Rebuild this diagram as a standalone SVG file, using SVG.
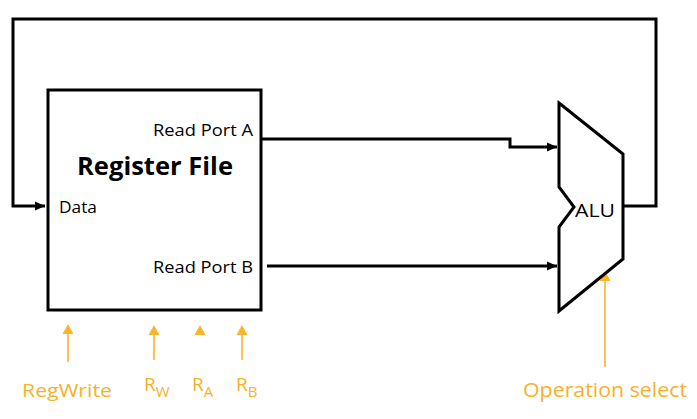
<svg xmlns="http://www.w3.org/2000/svg" width="697" height="419" viewBox="0 0 697 419">
<style>
.wire{fill:none;stroke:#000;stroke-width:3;stroke-linejoin:miter}
.ctl{fill:none;stroke:#F9B52E;stroke-width:1.6}
.head{fill:#F9B52E}
.t{font-family:"Open Sans","Liberation Sans",sans-serif;fill:#000}
.o{font-family:"Open Sans","Liberation Sans",sans-serif;fill:#F7B12A}
</style>
<defs>
<marker id="arr" markerUnits="userSpaceOnUse" markerWidth="11" markerHeight="10" refX="10" refY="5" orient="auto">
<path d="M0,0.5 L10,5 L0,9.5 Z" fill="#000"/>
</marker>
</defs>
<rect width="697" height="419" fill="#fff"/>
<g id="connectors">
<path class="wire" d="M623,206 H656 V19 H13 V206 H45" marker-end="url(#arr)"/>
<path class="wire" d="M261,139 H510 V147 H557" marker-end="url(#arr)"/>
<path class="wire" d="M267,266 H557" marker-end="url(#arr)"/>
<line class="ctl" x1="68" y1="333" x2="68" y2="362"/>
<path class="head" d="M68,324 L73.5,334 L62.5,334 Z"/>
<line class="ctl" x1="154" y1="334" x2="154" y2="360"/>
<path class="head" d="M154,325 L159.5,335 L148.5,335 Z"/>
<path class="head" d="M200,325 L205.5,335 L194.5,335 Z"/>
<line class="ctl" x1="242" y1="334" x2="242" y2="360"/>
<path class="head" d="M242,325 L247.5,335 L236.5,335 Z"/>
<line class="ctl" x1="605" y1="280" x2="605" y2="367"/>
<path class="head" d="M605,271 L610.5,281 L599.5,281 Z"/>
</g>
<g id="register-file">
<rect x="48" y="90" width="213" height="220" fill="#fff" stroke="#000" stroke-width="3"/>
<text class="t" x="77" y="175" font-size="25" font-weight="bold" textLength="156" lengthAdjust="spacingAndGlyphs">Register File</text>
<text class="t" x="153" y="136" font-size="17" textLength="100" lengthAdjust="spacingAndGlyphs">Read Port A</text>
<text class="t" x="153" y="273" font-size="17" textLength="100" lengthAdjust="spacingAndGlyphs">Read Port B</text>
<text class="t" x="59" y="213" font-size="17" textLength="38" lengthAdjust="spacingAndGlyphs">Data</text>
</g>
<g id="alu">
<path d="M559,103 L623,154 L623,259 L559,311 L559,227 L574,207 L559,187 Z" fill="#fff" stroke="#000" stroke-width="3" stroke-linejoin="miter"/>
<text class="t" x="575" y="217" font-size="19" textLength="40" lengthAdjust="spacingAndGlyphs">ALU</text>
</g>
<g id="labels">
<text class="o" x="22" y="397" font-size="19" textLength="90" lengthAdjust="spacingAndGlyphs">RegWrite</text>
<text class="o" x="144" y="391" font-size="19">R<tspan font-size="15" dy="6">W</tspan></text>
<text class="o" x="192" y="391" font-size="19">R<tspan font-size="15" dy="6">A</tspan></text>
<text class="o" x="236" y="391" font-size="19">R<tspan font-size="15" dy="6">B</tspan></text>
<text class="o" x="523" y="397" font-size="20" textLength="164" lengthAdjust="spacingAndGlyphs">Operation select</text>
</g>
</svg>
